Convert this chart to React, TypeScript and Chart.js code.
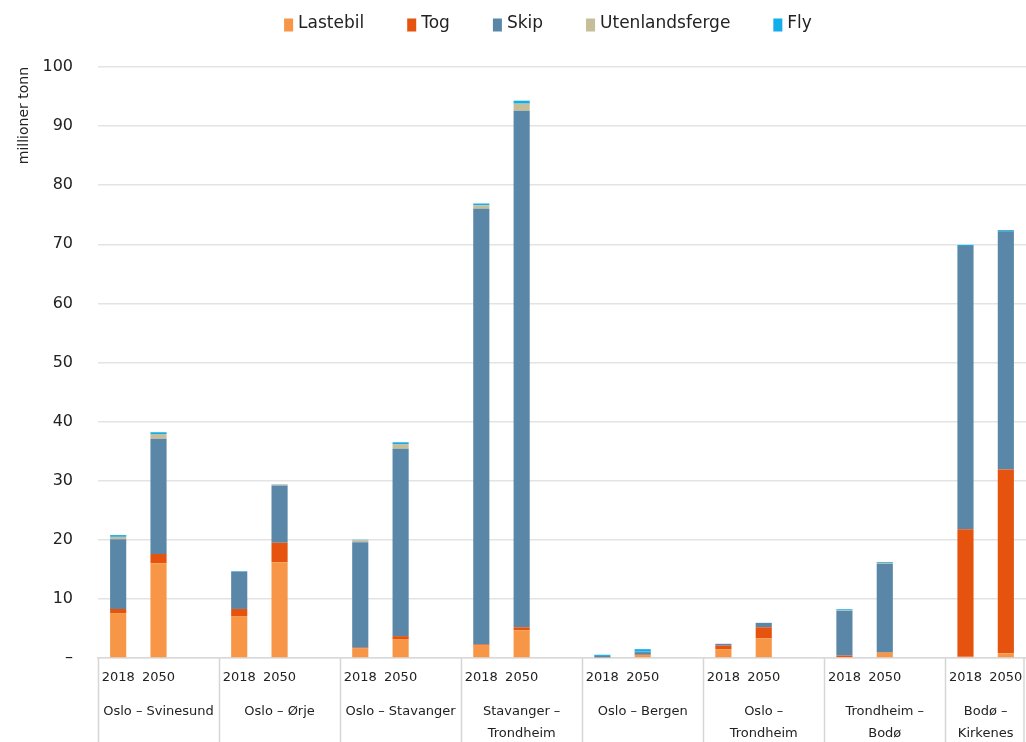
import React, { useEffect, useRef } from 'react';
import { Chart, registerables } from 'chart.js';

Chart.register(...registerables);

// Route groups (multi-line labels) and years within each group
const groupLabels: string[][] = [
  ['Oslo – Svinesund'],
  ['Oslo – Ørje'],
  ['Oslo – Stavanger'],
  ['Stavanger –', 'Trondheim'],
  ['Oslo – Bergen'],
  ['Oslo –', 'Trondheim'],
  ['Trondheim –', 'Bodø'],
  ['Bodø –', 'Kirkenes'],
];
const years = ['2018', '2050'];

const seriesNames = ['Lastebil', 'Tog', 'Skip', 'Utenlandsferge', 'Fly'];
const seriesColors = ['#F79646', '#E5530F', '#5A87A8', '#C5BE98', '#12AEEB'];

// Values (millioner tonn): per group, 2018 then 2050
const lastebil = [7.6, 16.0, 7.1, 16.2, 1.6, 3.2, 2.1, 4.7, 0.1, 0.5, 1.5, 3.3, 0.15, 0.9, 0.2, 0.8];
const tog = [0.7, 1.6, 1.2, 3.3, 0.15, 0.5, 0.2, 0.5, 0, 0.05, 0.6, 1.9, 0.25, 0.05, 21.6, 31.1];
const skip = [11.8, 19.5, 6.3, 9.7, 17.85, 31.7, 73.7, 87.4, 0.25, 0.45, 0.3, 0.75, 7.6, 15.0, 47.9, 40.3];
const utenlandsferge = [0.4, 0.8, 0, 0.15, 0.3, 0.8, 0.6, 1.2, 0, 0.05, 0, 0, 0.1, 0.15, 0, 0];
const fly = [0.3, 0.3, 0.1, 0.05, 0.1, 0.3, 0.3, 0.5, 0.2, 0.45, 0, 0, 0.15, 0.15, 0.2, 0.2];

const yMax = 100;
const yStep = 10;

const FONT = "'DejaVu Sans', sans-serif";

// Build slot labels: 2018, 2050, gap (the last group's gap is cut off in the original)
function buildSlots() {
  const labels: string[] = [];
  const groupOf: number[] = [];
  groupLabels.forEach((_, g) => {
    years.forEach((y) => {
      labels.push(y);
      groupOf.push(g);
    });
    if (g < groupLabels.length - 1) {
      labels.push('');
      groupOf.push(g);
    }
  });
  return { labels, groupOf };
}

function expand(values: number[]): (number | null)[] {
  const out: (number | null)[] = [];
  groupLabels.forEach((_, g) => {
    out.push(values[g * 2], values[g * 2 + 1]);
    if (g < groupLabels.length - 1) out.push(null);
  });
  return out;
}

export default function App() {
  const ref = useRef<HTMLCanvasElement | null>(null);

  useEffect(() => {
    if (!ref.current) return;
    const { labels, groupOf } = buildSlots();
    const allSeries = [lastebil, tog, skip, utenlandsferge, fly];

    const customPlugin = {
      id: 'customDecor',
      afterDraw(chart: any) {
        const ctx = chart.ctx as CanvasRenderingContext2D;
        const area = chart.chartArea;
        const xs = chart.scales.x;
        const n = labels.length;
        const band = (area.right - area.left) / n;

        // Legend
        ctx.save();
        ctx.font = `17px ${FONT}`;
        const boxW = 9;
        const boxH = 13;
        const gapText = 5;
        const gapItem = 43;
        const widths = seriesNames.map((s) => ctx.measureText(s).width);
        const total =
          widths.reduce((a, w) => a + boxW + gapText + w, 0) + gapItem * (seriesNames.length - 1);
        let lx = 548 - total / 2;
        const ly = 24;
        seriesNames.forEach((s, i) => {
          ctx.fillStyle = seriesColors[i];
          ctx.fillRect(lx, ly - boxH / 2 + 1, boxW, boxH);
          ctx.fillStyle = '#222';
          ctx.textBaseline = 'middle';
          ctx.textAlign = 'left';
          ctx.fillText(s, lx + boxW + gapText, ly);
          lx += boxW + gapText + widths[i] + gapItem;
        });
        ctx.restore();

        // Group separators and group labels
        ctx.save();
        ctx.strokeStyle = '#d6d6d6';
        ctx.lineWidth = 1.5;
        ctx.font = `13px ${FONT}`;
        ctx.fillStyle = '#222';
        ctx.textAlign = 'center';
        ctx.textBaseline = 'middle';
        const bottom = chart.height;
        groupLabels.forEach((lines, g) => {
          const firstIdx = groupOf.indexOf(g);
          const lastIdx = groupOf.lastIndexOf(g);
          const startX = xs.getPixelForValue(firstIdx) - band / 2;
          const endX = Math.min(xs.getPixelForValue(lastIdx) + band / 2, area.right);
          ctx.beginPath();
          ctx.moveTo(Math.round(startX) + 0.5, area.bottom);
          ctx.lineTo(Math.round(startX) + 0.5, bottom);
          ctx.stroke();
          const cx = (startX + endX) / 2;
          lines.forEach((line, li) => {
            ctx.fillText(line, cx, area.bottom + 54 + li * 22);
          });
        });
        ctx.beginPath();
        ctx.moveTo(area.right - 2, area.bottom);
        ctx.lineTo(area.right - 2, bottom);
        ctx.stroke();
        ctx.restore();
      },
    };

    const chart = new Chart(ref.current, {
      type: 'bar',
      data: {
        labels,
        datasets: seriesNames.map((name, i) => ({
          label: name,
          data: expand(allSeries[i]),
          backgroundColor: seriesColors[i],
          borderWidth: 0,
          categoryPercentage: 1,
          barPercentage: 0.4,
        })),
      },
      options: {
        animation: false,
        responsive: true,
        maintainAspectRatio: false,
        layout: { padding: { top: 67, left: 0, right: 0, bottom: 0 } },
        plugins: {
          legend: { display: false },
          tooltip: { enabled: false },
        },
        scales: {
          x: {
            stacked: true,
            offset: true,
            grid: { display: false, drawTicks: false },
            border: { display: true, color: '#d9d9d9', width: 1.5 },
            ticks: {
              autoSkip: false,
              maxRotation: 0,
              minRotation: 0,
              padding: 12,
              color: '#222',
              font: { family: FONT, size: 13 },
            },
            afterFit: (s: any) => {
              s.height = 84;
              s.paddingRight = 0;
              s.paddingLeft = 0;
            },
          },
          y: {
            stacked: true,
            min: 0,
            max: yMax,
            ticks: {
              stepSize: yStep,
              padding: 25,
              color: '#222',
              font: { family: FONT, size: 16 },
              callback: (v: any) => (Number(v) === 0 ? '–' : String(v)),
            },
            grid: { color: '#e3e3e3', lineWidth: 1.5, drawTicks: false },
            border: { display: false },
            title: {
              display: true,
              text: 'millioner tonn',
              align: 'end',
              color: '#222',
              font: { family: FONT, size: 14 },
              padding: { top: 16, bottom: 0 },
            },
            afterFit: (s: any) => {
              s.width = 98;
            },
          },
        },
      },
      plugins: [customPlugin],
    });

    return () => chart.destroy();
  }, []);

  return (
    <div style={{ position: 'fixed', left: 0, top: 0, width: 1026, height: 742, background: '#fff' }}>
      <canvas ref={ref} />
    </div>
  );
}
